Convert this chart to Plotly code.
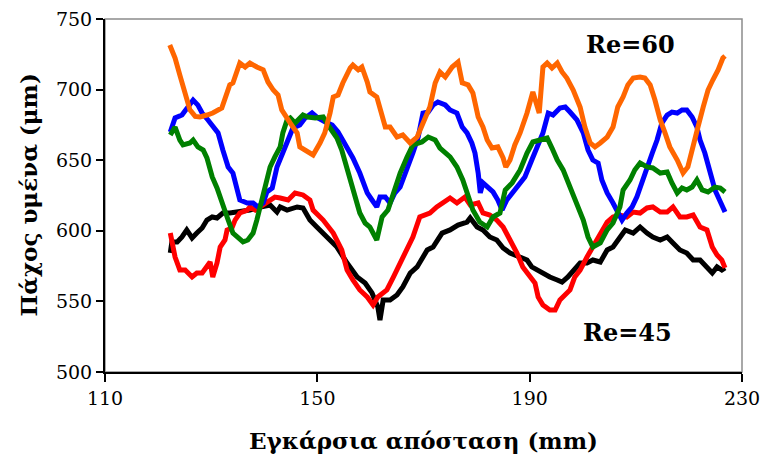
import plotly.graph_objects as go

# ---- data (x in mm, y in µm) ----
orange_x = [122.2,123.2,124.1,125.1,126.0,127.0,127.9,129.2,130.3,132.0,133.5,134.1,135.4,136.4,137.3,138.6,139.8,140.7,141.7,142.6,143.3,144.9,146.2,146.7,148.1,149.2,150.5,151.4,152.4,153.0,153.9,154.8,156.2,156.7,157.7,158.4,159.4,159.9,161.2,161.8,162.8,163.7,165.0,166.1,167.5,168.8,169.9,171.2,172.2,173.1,174.1,175.4,176.5,177.3,178.4,179.3,180.3,181.2,182.0,182.9,184.0,185.0,185.5,186.3,187.2,188.2,189.5,190.6,191.8,192.5,193.3,194.2,195.2,196.1,197.0,198.2,199.5,200.4,201.4,202.3,203.3,204.6,205.7,206.6,207.6,208.5,209.5,210.8,211.7,212.7,213.6,214.6,215.5,216.4,217.8,218.9,219.8,220.8,221.7,222.7,223.6,224.5,225.5,226.4,226.8]
orange_y = [731.6,722.4,710.3,696.2,685.6,681.0,680.6,682.0,683.4,687.0,703.3,704.7,718.8,716.0,718.8,716.0,714.0,705.4,699.7,696.2,685.6,676.3,669.3,659.4,655.8,653.7,662.2,669.3,683.4,694.8,696.2,704.7,715.3,717.4,714.0,716.0,705.4,698.3,694.8,686.0,673.5,673.5,666.4,667.9,662.2,666.4,676.3,687.7,704.7,712.5,708.9,716.0,719.5,704.7,703.3,697.6,680.6,673.5,664.3,658.6,659.4,651.6,645.2,650.1,660.8,669.3,683.4,698.3,683.4,716.0,718.8,715.3,718.8,712.5,708.2,699.7,687.7,673.5,662.2,659.4,662.2,666.4,673.5,687.7,694.8,703.3,708.2,708.9,708.2,703.3,692.6,678.5,669.3,659.4,650.1,640.9,645.2,662.2,673.5,687.7,699.7,706.8,713.9,722.4,723.8]

blue_x = [122.3,123.2,124.5,125.6,126.6,127.5,128.3,129.4,130.7,131.3,132.2,133.2,134.1,134.9,135.4,136.8,137.9,138.8,139.8,140.5,141.5,142.4,143.5,144.5,145.4,146.7,147.7,149.0,150.1,151.5,152.8,153.9,155.2,156.7,158.0,159.4,160.3,161.2,161.8,162.8,163.7,164.6,165.6,166.9,168.0,169.0,169.9,170.9,171.8,172.7,174.1,175.0,176.3,177.3,178.2,179.1,179.7,180.3,180.7,181.2,182.2,183.1,184.0,184.8,185.7,186.7,187.8,189.1,190.4,191.4,192.5,193.5,194.4,195.7,196.7,197.6,198.9,200.1,201.0,201.9,202.9,203.6,204.6,205.7,206.7,207.4,208.3,209.3,210.2,211.2,212.1,213.1,214.0,214.9,215.9,216.8,217.8,218.7,219.6,220.6,221.5,222.1,223.0,223.6,224.4,224.9,225.9,226.8]
blue_y = [670.0,680.0,682.0,687.0,692.6,689.0,683.4,678.5,672.8,669.3,657.2,645.2,640.9,631.0,621.8,619.7,619.7,616.9,619.7,627.5,630.3,645.2,655.1,664.3,672.8,674.9,679.9,683.4,679.9,677.1,674.9,670.0,662.2,651.6,640.9,626.8,621.8,616.9,624.0,624.0,619.7,626.8,631.0,643.0,655.1,666.4,683.4,684.1,689.1,691.2,689.1,685.6,683.4,673.5,669.3,662.2,655.1,640.9,626.8,633.9,631.0,627.5,621.8,614.7,621.8,626.8,631.0,638.1,650.1,659.4,669.3,683.4,682.0,687.0,687.7,684.1,678.5,669.3,657.2,650.1,648.0,636.0,626.8,619.7,612.6,607.6,612.6,616.9,624.0,633.9,645.2,655.1,664.3,676.3,682.0,684.1,683.4,685.6,685.6,680.6,673.5,664.3,655.1,648.0,636.0,628.9,619.7,613.3]

green_x = [122.3,123.2,124.1,124.7,126.0,126.6,127.5,128.5,129.2,130.2,131.1,132.0,133.0,134.1,135.4,136.0,136.9,137.9,138.6,139.2,140.1,141.1,142.0,143.0,143.5,144.3,144.9,145.8,147.3,148.2,149.6,151.1,152.4,153.7,154.6,155.6,156.7,158.0,159.0,159.9,161.2,162.2,163.3,164.6,165.6,166.9,168.0,169.7,170.9,172.2,173.1,175.0,176.3,177.4,178.4,179.3,180.6,182.0,183.1,184.4,185.4,186.7,188.2,189.5,190.6,191.9,193.3,194.2,195.2,196.3,197.6,198.9,200.1,201.0,201.9,203.3,204.6,205.7,207.0,207.6,208.9,209.8,210.8,212.1,213.2,214.6,215.9,216.8,217.8,218.7,219.6,220.6,221.5,222.5,223.6,224.9,225.9,226.8]
green_y = [667.9,673.5,664.3,660.8,662.2,664.3,659.4,657.2,651.6,638.1,630.3,619.7,609.8,598.4,593.5,592.1,593.5,598.4,607.6,616.9,628.9,645.2,652.3,659.4,669.3,678.5,679.9,676.3,682.0,680.6,679.9,680.6,672.8,665.7,657.2,643.1,628.9,612.6,605.5,602.7,593.5,609.8,614.7,628.9,640.9,652.3,660.8,662.9,666.4,664.3,658.6,652.3,645.2,636.0,623.9,614.7,606.2,602.7,609.8,612.6,628.9,633.9,643.1,655.1,662.9,664.3,665.7,658.6,650.1,643.1,631.0,619.7,607.6,595.6,588.5,591.4,600.6,605.5,616.9,628.9,636.0,643.1,648.0,645.2,644.5,640.9,641.6,633.9,626.8,630.3,628.9,631.0,636.0,628.9,627.5,631.0,630.3,627.5]

black_x = [122.3,122.6,123.6,124.5,125.4,126.4,127.3,128.3,129.2,130.2,131.1,132.2,133.5,134.9,136.0,137.3,138.6,139.8,141.1,142.4,143.0,144.3,145.4,146.2,147.3,148.6,149.9,151.8,153.7,155.6,157.5,159.0,160.3,161.4,161.8,162.4,163.7,165.0,166.1,167.5,168.8,170.7,171.8,173.5,175.0,176.5,178.2,178.8,180.1,181.2,182.5,183.8,185.0,186.3,188.2,189.5,190.4,191.4,192.5,193.8,195.2,196.1,197.2,198.5,199.5,200.8,201.9,203.3,204.6,205.7,207.0,208.0,209.5,210.8,212.1,213.2,214.6,215.9,217.0,218.3,219.6,220.8,222.1,223.4,224.4,225.3,226.2,226.8]
black_y = [584.3,592.1,592.1,595.6,600.6,594.9,598.4,602.0,607.6,609.8,609.1,612.6,612.6,613.3,614.7,614.7,616.2,616.9,618.3,613.3,616.9,614.7,616.2,616.9,616.2,607.6,602.7,595.6,588.5,577.2,567.3,563.0,556.0,546.0,536.8,551.0,551.0,554.5,560.2,570.1,574.4,586.4,588.5,598.4,600.6,604.1,606.2,609.1,602.7,600.6,595.6,593.5,587.8,584.3,581.4,579.3,574.4,572.2,570.1,567.3,565.2,563.7,567.3,572.2,577.2,577.2,579.3,577.9,586.4,588.5,595.6,600.6,598.4,602.7,598.4,595.6,593.5,595.6,591.4,586.4,584.3,579.3,579.3,574.4,570.1,574.4,572.2,573.7]

red_x = [122.3,123.2,124.1,125.1,126.4,127.3,128.3,129.2,129.8,130.3,131.1,131.7,132.6,133.0,133.9,134.5,135.4,136.8,137.3,138.3,139.2,140.5,142.0,143.0,144.5,145.8,147.3,148.6,149.2,151.1,153.0,154.6,155.6,156.7,158.0,159.4,160.5,161.4,163.1,164.3,165.6,166.9,168.0,169.3,171.2,172.5,174.4,175.0,176.3,177.8,178.8,180.3,181.2,182.5,183.8,185.0,186.3,187.6,188.7,190.1,191.0,191.6,192.5,193.8,194.8,195.7,196.7,197.6,198.5,199.5,200.8,201.9,203.3,204.6,205.7,207.0,208.3,209.5,210.8,212.1,213.2,214.6,215.9,217.0,218.3,219.6,220.8,222.1,223.4,224.4,225.3,226.2,226.8]
red_y = [598.4,581.4,572.2,572.2,567.3,570.1,570.1,574.4,577.9,567.3,577.2,588.5,593.5,600.6,602.0,607.6,612.6,614.7,616.9,614.7,616.9,619.7,623.9,623.2,621.8,626.8,625.4,621.8,614.7,607.6,598.4,586.4,572.2,565.2,558.1,553.1,547.5,553.1,558.1,567.0,577.2,588.5,595.6,609.8,612.6,616.9,621.8,623.2,619.7,623.9,618.3,619.7,612.6,611.2,607.6,602.7,593.5,584.3,574.4,567.3,563.0,553.1,547.5,543.9,543.9,551.0,554.5,558.1,567.3,572.2,581.4,588.5,598.4,606.2,609.8,611.2,609.8,613.3,612.6,616.2,616.9,613.3,613.3,616.9,609.8,609.8,611.2,602.7,600.6,588.5,582.9,579.3,573.7]

x_ticks = [110, 150, 190, 230]
y_ticks = [500, 550, 600, 650, 700, 750]
x_title = "Εγκάρσια απόσταση (mm)"
y_title = "Πάχος υμένα (μm)"
labels = [("Re=60", 209, 732), ("Re=45", 208.5, 528)]

series = [
    ("black", black_x, black_y, "#000000"),
    ("red", red_x, red_y, "#FF0000"),
    ("blue", blue_x, blue_y, "#0000FF"),
    ("green", green_x, green_y, "#008000"),
    ("orange", orange_x, orange_y, "#FF6600"),
]

FONT = "DejaVu Serif"
fig = go.Figure()
for name, xs, ys, col in series:
    fig.add_trace(go.Scatter(x=xs, y=ys, mode="lines", name=name,
                             line=dict(color=col, width=5), showlegend=False))

fig.update_layout(
    width=762, height=459,
    margin=dict(l=105, r=20, t=19, b=87, autoexpand=False),
    plot_bgcolor="white", paper_bgcolor="white",
    font=dict(family=FONT, size=19, color="black"),
    xaxis=dict(range=[110, 230], tickvals=x_ticks, showgrid=False, zeroline=False,
               automargin=False, ticklabeloverflow="allow",
               showline=True, linecolor="black", linewidth=2,
               ticks="outside", ticklen=8, tickwidth=1.5, tickcolor="black",
               tickfont=dict(family=FONT, size=19, color="black")),
    yaxis=dict(range=[500, 750], tickvals=y_ticks, showgrid=False, zeroline=False,
               automargin=False, ticklabeloverflow="allow",
               showline=True, linecolor="black", linewidth=2,
               ticks="outside", ticklen=7, tickwidth=1.5, tickcolor="black",
               tickfont=dict(family=FONT, size=19, color="black")),
    shapes=[dict(type="rect", xref="paper", yref="paper", x0=0, y0=0, x1=1, y1=1,
                 line=dict(color="#8c8c8c", width=1.5), layer="below")],
)

anns = []
for txt, ax, ay in labels:
    anns.append(dict(x=ax, y=ay, xref="x", yref="y", text="<b>%s</b>" % txt,
                     showarrow=False, font=dict(family=FONT, size=24, color="black")))
anns.append(dict(x=0.5, y=0, xref="paper", yref="paper", yshift=-68, yanchor="middle",
                 text="<b>%s</b>" % x_title, showarrow=False,
                 font=dict(family=FONT, size=23, color="black")))
anns.append(dict(x=0, y=0.5, xref="paper", yref="paper", xshift=-77, xanchor="center",
                 text="<b>%s</b>" % y_title, showarrow=False, textangle=-90,
                 font=dict(family=FONT, size=23, color="black")))
fig.update_layout(annotations=anns)

fig.write_html("out.html", config={"displayModeBar": False},
               post_script="document.body.style.margin='0';document.body.style.overflow='hidden';")
